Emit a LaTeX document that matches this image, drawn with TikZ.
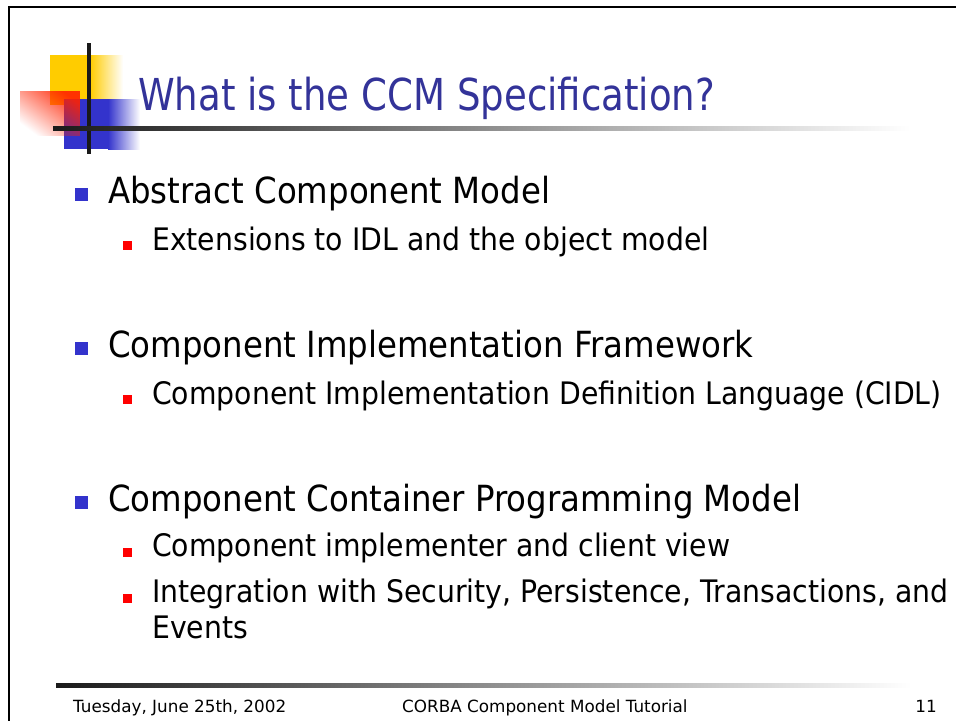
\documentclass[tikz,border=0pt]{standalone}
\usepackage{fontspec}
\setmainfont{DejaVu Sans}
\newfontfamily\bodyfont[FakeStretch=0.9]{DejaVu Sans}
\newfontfamily\subfont[FakeStretch=0.913]{DejaVu Sans}
\newfontfamily\titlefont[FakeStretch=0.843]{DejaVu Sans}
\newfontfamily\footfont{DejaVu Sans}
\usetikzlibrary{fadings}
\definecolor{titleblue}{HTML}{333399}
\definecolor{bulletblue}{HTML}{3333CC}
\definecolor{bulletred}{HTML}{FF0000}
\definecolor{logoyellow}{HTML}{FFCC00}
\definecolor{logoblue}{HTML}{3333CC}
\definecolor{logored}{HTML}{FF2200}
\definecolor{linedark}{HTML}{1A1A1A}
\tikzfading[name=redfade, left color=transparent!100, right color=transparent!10]
\begin{document}
\begin{tikzpicture}[x=1pt,y=-1pt,
  lvlone/.style={anchor=base west, inner sep=0pt, font=\bodyfont\fontsize{36}{40}\selectfont},
  lvltwo/.style={anchor=base west, inner sep=0pt, font=\subfont\fontsize{31}{36}\selectfont},
  foot/.style={inner sep=0pt, font=\footfont\fontsize{16.8}{20}\selectfont},
  bbul/.style={fill=bulletblue, minimum size=13pt, inner sep=0pt, outer sep=0pt},
  rbul/.style={fill=bulletred, minimum size=9pt, inner sep=0pt, outer sep=0pt},
  frameline/.style={line width=2pt, black},
  fadeline/.style={left color=linedark, right color=white}
]
\useasboundingbox (0,0) rectangle (956,721);
\fill[white] (0,0) rectangle (956,721);
% frame
\draw[frameline] (8,7) -- (956,7);
\draw[frameline] (9,6) -- (9,721);
% logo
\fill[logoyellow] (50,55) rectangle (90,105);
\shade[left color=logoyellow, right color=white] (90,55) rectangle (123,105);
\fill[logoblue] (64,99) rectangle (108,149);
\shade[left color=logoblue, right color=white] (108,99) rectangle (140,149);
\fill[logored, path fading=redfade, fading angle=45] (20,91) rectangle (80,136);
\fill[black!90] (87.3,43) rectangle (91,154);
% title line
\shade[fadeline] (53,126) rectangle (910,130);
% title
\node[anchor=base west, inner sep=0pt, text=titleblue, font=\titlefont\fontsize{44}{50}\selectfont] (title) at (138,110) {What is the CCM Specification?};
% bullets level 1
\node[bbul] (b1) at (81.5,194.5) {};
\node[lvlone] (t1) at (108,203) {Abstract Component Model};
\node[rbul] (s1) at (127.5,245) {};
\node[lvltwo] (u1) at (152,250) {Extensions to IDL and the object model};
\node[bbul] (b2) at (81.5,348.5) {};
\node[lvlone] (t2) at (108,357) {Component Implementation Framework};
\node[rbul] (s2) at (127.5,399) {};
\node[lvltwo] (u2) at (152,404) {Component Implementation Definition Language (CIDL)};
\node[bbul] (b3) at (81.5,502.5) {};
\node[lvlone] (t3) at (108,511) {Component Container Programming Model};
\node[rbul] (s3) at (127.5,552) {};
\node[lvltwo] (u3) at (152,556) {Component implementer and client view};
\node[rbul] (s4) at (127.5,598) {};
\node[lvltwo] (u4) at (152,602) {Integration with Security, Persistence, Transactions, and};
\node[lvltwo] (u5) at (152,638) {Events};
% footer
\shade[fadeline] (56,683) rectangle (911,687);
\node[foot, anchor=base west] (f1) at (73,712) {Tuesday, June 25th, 2002};
\node[foot, anchor=base west] (f2) at (402,712) {CORBA Component Model Tutorial};
\node[foot, anchor=base east] (f3) at (937,712) {11};
\end{tikzpicture}
\end{document}
